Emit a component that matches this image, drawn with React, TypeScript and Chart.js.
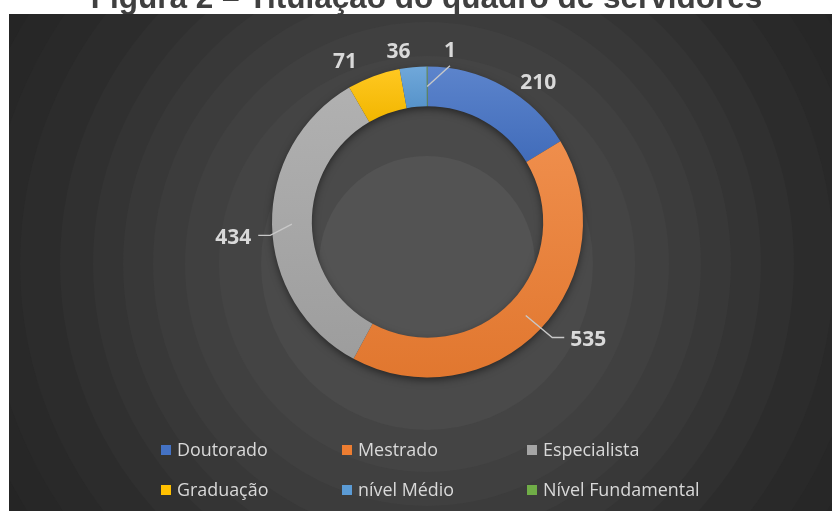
import React, { useEffect, useRef } from "react";
import { Chart, registerables } from "chart.js";
Chart.register(...registerables);

// ---- data ----
const title = "Figura 2 – Titulação do quadro de servidores";
const categories = ["Doutorado", "Mestrado", "Especialista", "Graduação", "nível Médio", "Nível Fundamental"];
const values = [210, 535, 434, 71, 36, 1];

// ---- styles ----
const colors = ["#4472C4", "#ED7D31", "#A5A5A5", "#FFC000", "#5B9BD5", "#70AD47"];
// label nudges relative to natural outside position: [dx, dy, leader kind]
const labelNudges: [number, number, string][] = [
  [22.7, 16.4, "none"],
  [30.7, -7.2, "right"],
  [-14.8, 12, "left"],
  [-20.2, 6.7, "none"],
  [-12.4, 6.9, "none"],
  [22.9, 6.7, "up"],
];
const LABEL_FONT = 21;
const LEGEND_FONT = 17.9;
const PANEL = { x: 9, y: 14 };
const BG_CENTER = { x: 427, y: 264 };
const bandEdges = [108, 166, 208, 242, 274, 304, 334, 367, 407, 440, 470, 500];
const bandLevels = [0x53, 0x4a, 0x44, 0x40, 0x3c, 0x38, 0x34, 0x30, 0x2c, 0x29, 0x27, 0x25, 0x23];

function hexToRgb(h: string) {
  const n = parseInt(h.slice(1), 16);
  return [(n >> 16) & 255, (n >> 8) & 255, n & 255];
}
function mix(h: string, target: number, t: number) {
  const [r, g, b] = hexToRgb(h);
  const f = (c: number) => Math.round(c + (target - c) * t);
  return `rgb(${f(r)},${f(g)},${f(b)})`;
}

const CUTOUT = 0.744;

function segmentFill(ctx: any) {
  const chart = ctx.chart;
  const i = ctx.dataIndex;
  const area = chart.chartArea;
  if (!area) return colors[i];
  const cx = (area.left + area.right) / 2;
  const cy = (area.top + area.bottom) / 2;
  const R = Math.min(area.right - area.left, area.bottom - area.top) / 2;
  const r = R * CUTOUT;
  const total = values.reduce((a, b) => a + b, 0);
  const before = values.slice(0, i).reduce((a, b) => a + b, 0);
  const a0 = (before / total) * Math.PI * 2;
  const a1 = ((before + values[i]) / total) * Math.PI * 2;
  const ys: number[] = [];
  for (const rad of [r, R]) for (const a of [a0, a1]) ys.push(cy - rad * Math.cos(a));
  if (a0 <= 0.0001) ys.push(cy - R);
  if (a0 <= Math.PI && a1 >= Math.PI) ys.push(cy + R);
  const yMin = Math.min(...ys);
  const yMax = Math.max(...ys);
  const g = chart.ctx.createLinearGradient(0, yMin, 0, Math.max(yMax, yMin + 1));
  g.addColorStop(0, mix(colors[i], 255, 0.13));
  g.addColorStop(1, mix(colors[i], 0, 0.05));
  return g;
}

const backgroundPlugin = {
  id: "bgBands",
  beforeDraw(chart: any) {
    const { ctx, width, height } = chart;
    ctx.save();
    ctx.fillStyle = "#ffffff";
    ctx.fillRect(0, 0, width, height);
    ctx.beginPath();
    ctx.rect(PANEL.x, PANEL.y, width - PANEL.x, height - PANEL.y);
    ctx.clip();
    const lv = (v: number) => `rgb(${v},${v},${v})`;
    ctx.fillStyle = lv(bandLevels[bandLevels.length - 1]);
    ctx.fillRect(PANEL.x, PANEL.y, width - PANEL.x, height - PANEL.y);
    for (let i = bandEdges.length - 1; i >= 0; i--) {
      ctx.beginPath();
      ctx.arc(BG_CENTER.x, BG_CENTER.y, bandEdges[i], 0, Math.PI * 2);
      ctx.fillStyle = lv(bandLevels[i]);
      ctx.fill();
    }
    ctx.restore();

    // title (clipped at top of page)
    ctx.save();
    ctx.beginPath();
    ctx.rect(0, 0, width, PANEL.y);
    ctx.clip();
    ctx.font = 'bold 31.5px "Liberation Sans", Arial, sans-serif';
    ctx.fillStyle = "#404040";
    ctx.textAlign = "center";
    ctx.textBaseline = "alphabetic";
    ctx.fillText(title, 426.5, 8);
    ctx.restore();
  },
};

const shadowPlugin = {
  id: "ringShadow",
  beforeDatasetsDraw(chart: any) {
    const meta = chart.getDatasetMeta(0);
    const arc = meta.data[0];
    if (!arc) return;
    const p = arc.getProps(["x", "y", "innerRadius", "outerRadius"], true);
    const ctx = chart.ctx;
    ctx.save();
    ctx.shadowColor = "rgba(0,0,0,0.55)";
    ctx.shadowBlur = 9;
    ctx.shadowOffsetY = 3;
    ctx.beginPath();
    ctx.arc(p.x, p.y, p.outerRadius - 1, 0, Math.PI * 2);
    ctx.arc(p.x, p.y, p.innerRadius + 1, 0, Math.PI * 2, true);
    ctx.fillStyle = "#3a3a3a";
    ctx.fill("evenodd");
    ctx.restore();
  },
};

const labelPlugin = {
  id: "dataLabels",
  afterDatasetsDraw(chart: any) {
    const ctx = chart.ctx;
    const meta = chart.getDatasetMeta(0);
    ctx.save();
    ctx.font = `bold ${LABEL_FONT}px "Open Sans", sans-serif`;
    meta.data.forEach((arc: any, i: number) => {
      const p = arc.getProps(["x", "y", "startAngle", "endAngle", "innerRadius", "outerRadius"], true);
      const mid = (p.startAngle + p.endAngle) / 2;
      const rl = p.outerRadius + 24;
      const [dx, dy, kind] = labelNudges[i];
      const lx = p.x + Math.cos(mid) * rl + dx;
      const ly = p.y + Math.sin(mid) * rl + dy;
      const text = String(values[i]);
      const w = ctx.measureText(text).width;
      const h = LABEL_FONT * 0.714;
      if (kind !== "none") {
        const rm = (p.innerRadius + p.outerRadius) / 2;
        const sx = p.x + Math.cos(mid) * rm;
        const sy = p.y + Math.sin(mid) * rm;
        ctx.beginPath();
        ctx.moveTo(sx, sy);
        if (kind === "right") {
          ctx.lineTo(lx - w / 2 - 18, ly - 1);
          ctx.lineTo(lx - w / 2 - 6, ly - 1);
        } else if (kind === "left") {
          ctx.lineTo(lx + w / 2 + 19, ly - 1.5);
          ctx.lineTo(lx + w / 2 + 7, ly - 1.5);
        } else {
          ctx.lineTo(lx, ly + h / 2 + 9);
        }
        ctx.strokeStyle = "#c8c8c8";
        ctx.lineWidth = 1.4;
        ctx.stroke();
      }
      ctx.fillStyle = "#d9d9d9";
      ctx.textAlign = "center";
      ctx.textBaseline = "alphabetic";
      ctx.fillText(text, lx, ly + h / 2);
    });
    ctx.restore();
  },
};

const LEGEND_COLS = [161, 342, 527];
const LEGEND_ROWS = [456, 496];
const legendPlugin = {
  id: "customLegend",
  afterDraw(chart: any) {
    const ctx = chart.ctx;
    ctx.save();
    ctx.font = `${LEGEND_FONT}px "Open Sans", sans-serif`;
    ctx.textBaseline = "alphabetic";
    ctx.textAlign = "left";
    categories.forEach((c, i) => {
      const x = LEGEND_COLS[i % 3];
      const y = LEGEND_ROWS[Math.floor(i / 3)];
      ctx.fillStyle = colors[i];
      ctx.fillRect(x, y - 11, 10, 10);
      ctx.fillStyle = "#d9d9d9";
      ctx.fillText(c, x + 16, y);
    });
    ctx.restore();
  },
};

export default function App() {
  const ref = useRef<HTMLCanvasElement>(null);
  useEffect(() => {
    document.body.style.margin = "0";
    const canvas = ref.current!;
    const chart = new Chart(canvas, {
      type: "doughnut",
      data: {
        labels: categories,
        datasets: [
          {
            data: values,
            backgroundColor: segmentFill as any,
            borderWidth: 0,
            hoverBorderWidth: 0,
            hoverOffset: 0,
            offset: 0,
          } as any,
        ],
      },
      options: {
        responsive: false,
        animation: false,
        cutout: `${CUTOUT * 100}%`,
        rotation: 0,
        events: [],
        layout: { padding: { left: 272, right: 249, top: 66, bottom: 133 } },
        plugins: { legend: { display: false }, tooltip: { enabled: false }, title: { display: false } },
      } as any,
      plugins: [backgroundPlugin, shadowPlugin, labelPlugin, legendPlugin],
    });
    const fonts = [
      document.fonts.load(`bold ${LABEL_FONT}px "Open Sans"`),
      document.fonts.load(`${LEGEND_FONT}px "Open Sans"`),
      document.fonts.load('bold 31px "Liberation Sans"'),
    ];
    Promise.all(fonts).then(() => chart.update()).catch(() => {});
    return () => chart.destroy();
  }, []);
  return <canvas ref={ref} width={832} height={511} style={{ display: "block", width: 832, height: 511 }} />;
}
